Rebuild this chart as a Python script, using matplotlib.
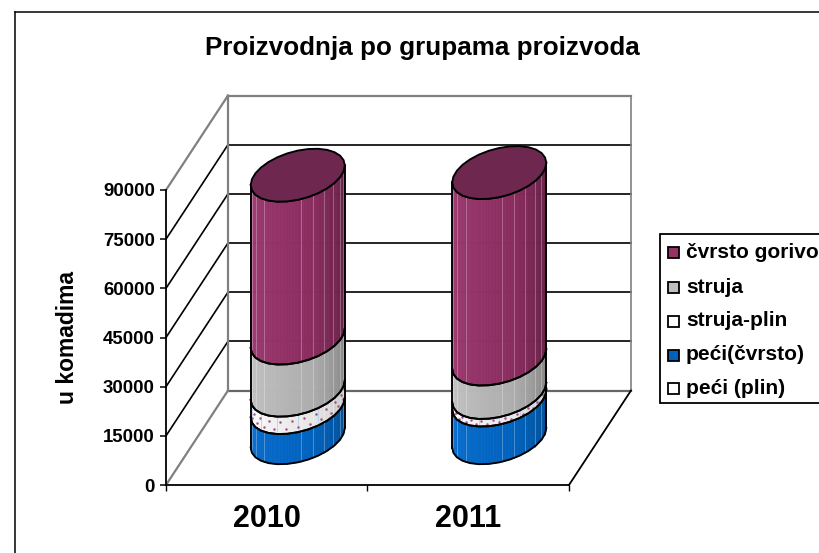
import numpy as np
import matplotlib
matplotlib.use('Agg')
import matplotlib.pyplot as plt
from matplotlib.collections import PolyCollection
from matplotlib.colors import to_rgb
from matplotlib.patches import Polygon, Rectangle

plt.rcParams['font.family'] = ['Liberation Sans', 'DejaVu Sans']
plt.rcParams['font.weight'] = 'bold'

years = ['2010', '2011']
series = ['peći (plin)', 'peći(čvrsto)', 'struja-plin', 'struja', 'čvrsto gorivo']
peci_plin = [0, 0]
peci_cvrsto = [9200, 11500]
struja_plin = [5300, 2300]
struja = [15900, 10200]
cvrsto_gorivo = [49700, 56900]
yticks = [0, 15000, 30000, 45000, 60000, 75000, 90000]

# left / middle / right shade of each cylinder part
shades = {
    'peći (plin)': ('#ffffff', '#eeeeee', '#cccccc'),
    'peći(čvrsto)': ('#0a6fd2', '#0062bd', '#004a8e'),
    'struja-plin': ('#ffffff', '#e6e6e6', '#c4c4c4'),
    'struja': ('#c6c6c6', '#adadad', '#7e7e7e'),
    'čvrsto gorivo': ('#a03c74', '#8a2c5e', '#5a1e40'),
}
top_color = '#6e2850'

W, H = 820, 553
fig = plt.figure(figsize=(W / 100, H / 100), dpi=100)


def fx(x):
    return x / W


def fy(y):
    return 1 - y / H


ax = fig.add_axes([fx(166), fy(485), (569 - 166) / W, (485 - 190) / H])
ax.set_xlim(0, 2)
ax.set_ylim(0, 90000)
ax.patch.set_visible(False)
for s in ['top', 'right']:
    ax.spines[s].set_visible(False)
for s in ['left', 'bottom']:
    ax.spines[s].set_linewidth(1.3)

ax.set_yticks(yticks)
ax.tick_params(axis='y', labelsize=13.4, length=4, width=1.1, pad=4)
ax.set_xticks([0, 1, 2])
ax.set_xticklabels([])
ax.tick_params(axis='x', which='major', length=4, width=1.0)
ax.set_xticks([0.5, 1.5], minor=True)
ax.set_xticklabels(years, minor=True, fontsize=22)
ax.tick_params(axis='x', which='minor', length=0, pad=14)
ax.set_ylabel('u komadima', fontsize=16.5, fontweight='bold', labelpad=17, y=0.50)

# depth of the box in data units
DX = 62 / 201.5
DY = 94.5 / 295 * 90000
GREY = '#808080'


def wall(x, y, color='black', lw=1.2, z=1):
    ax.plot(x, y, color=color, lw=lw, zorder=z, clip_on=False, solid_capstyle='projecting')


for v in yticks:
    g = v == 0 or v == 90000
    c = GREY if g else 'black'
    wall([0, DX], [v, v + DY], c, 1.6 if g else 1.2)
    wall([DX, 2 + DX], [v + DY, v + DY], '#666666' if v == 0 else c, 1.6 if g else 1.2)
wall([DX, DX], [DY, 90000 + DY], GREY, 1.6)
wall([2 + DX, 2 + DX], [DY, 90000 + DY], GREY, 1.2)
wall([2, 2 + DX], [0, DY], 'black', 1.3)

# cylinder footprint: half width and half depth
RX = 43.7 / 201.5
RD = 26.5 / 94.5
T0 = np.arctan2(RD * DX * 201.5, RX * 201.5)
N = 14
STRIPS = 48
# facets where the renderer leaves a pale seam
seams = [3, 7, 12, 25, 29, 33, 37, 41, 44]


def ring(cat, val, t):
    d = 0.5 + RD * np.sin(t)
    return cat + 0.5 + RX * np.cos(t) + d * DX, val + d * DY


front_t = np.linspace(T0 + np.pi, T0 + 2 * np.pi, N + 1)
fine_t = np.linspace(T0 + np.pi, T0 + 2 * np.pi, STRIPS + 1)


def shade(name, f):
    l, m, r = [np.array(to_rgb(c)) for c in shades[name]]
    if f < 0.6:
        return l + (m - l) * f / 0.6
    return m + (r - m) * (f - 0.6) / 0.4


stack = [peci_plin, peci_cvrsto, struja_plin, struja, cvrsto_gorivo]
for i in range(len(years)):
    base = 0
    for name, vals in zip(series, stack):
        top = base + vals[i]
        if vals[i] > 0:
            xb, yb = ring(i, base, fine_t)
            xt, yt = ring(i, top, fine_t)
            polys, cols = [], []
            for k in range(STRIPS):
                polys.append([(xb[k], yb[k]), (xb[k + 1], yb[k + 1]),
                              (xt[k + 1], yt[k + 1]), (xt[k], yt[k])])
                cols.append(shade(name, (k + 0.5) / STRIPS))
            ax.add_collection(PolyCollection(polys, facecolors=cols, edgecolors=cols,
                                             linewidths=0.5, zorder=3, clip_on=False))
            for k in seams:
                pale = 0.6 * shade(name, k / STRIPS) + 0.4
                ax.plot([xb[k], xt[k]], [yb[k], yt[k]], color=pale, lw=0.5, zorder=3.2,
                        clip_on=False)
            if name == 'struja-plin':
                # dotted pattern of this series
                for row, fr in enumerate([0.3, 0.72]):
                    ts = front_t[0] + (np.arange(1, 12) + row * 0.5) / 12 * np.pi
                    px_, py_ = ring(i, base + fr * vals[i], ts)
                    ax.plot(px_, py_, ls='none', marker='o', ms=1.8, mew=0,
                            color='#a8508a', zorder=4, clip_on=False)
                for tv in front_t[1:-1:2]:
                    lx, ly = ring(i, base, tv)
                    ux, uy = ring(i, top, tv)
                    ax.plot([lx, ux], [ly, uy], color='#b8d0ea', lw=0.6, zorder=3.5,
                            clip_on=False)
            xb, yb = ring(i, base, front_t)
            xt, yt = ring(i, top, front_t)
            ax.plot(xb, yb, color='black', lw=1.35, zorder=5, clip_on=False)
            ax.plot(xt, yt, color='black', lw=1.35, zorder=5, clip_on=False)
            for e in [0, -1]:
                ax.plot([xb[e], xt[e]], [yb[e], yt[e]], color='black', lw=1.35, zorder=5,
                        clip_on=False)
        base = top
    all_t = np.linspace(T0, T0 + 2 * np.pi, 2 * N + 1)
    xc, yc = ring(i, base, all_t)
    ax.add_patch(Polygon(np.column_stack([xc, yc]), closed=True, facecolor=top_color,
                         edgecolor='black', lw=1.35, zorder=6, clip_on=False))

fig.text(fx(422.5), fy(47.5), 'Proizvodnja po grupama proizvoda', fontsize=18.7,
         ha='center', va='center', fontweight='bold')

# outer chart border, runs off the picture on the right and at the bottom
fig.add_artist(plt.Line2D([fx(15.5), fx(15.5)], [fy(12), 0], color='black', lw=1.1))
fig.add_artist(plt.Line2D([fx(15.5), 1], [fy(12), fy(12)], color='black', lw=1.1))

# legend box runs off the right edge
fig.add_artist(Rectangle((fx(659.5), fy(403)), 200 / W, (403 - 234) / H, transform=fig.transFigure,
                         facecolor='white', edgecolor='black', lw=1.3))
leg_y = [252.5, 287.5, 321, 355, 388]
for name, y in zip(series[::-1], leg_y):
    fc = shades[name][1] if name == 'peći(čvrsto)' else 'white'
    if name == 'čvrsto gorivo':
        fc = '#963264'
    if name == 'struja':
        fc = '#c0c0c0'
    fig.add_artist(Rectangle((fx(668), fy(y + 5.5)), 11.5 / W, 11 / H, transform=fig.transFigure,
                             facecolor=fc, edgecolor='black', lw=1.3))
    fig.text(fx(686), fy(y), name, fontsize=15, ha='left', va='center', fontweight='bold')

fig.savefig('out.png', dpi=100)
